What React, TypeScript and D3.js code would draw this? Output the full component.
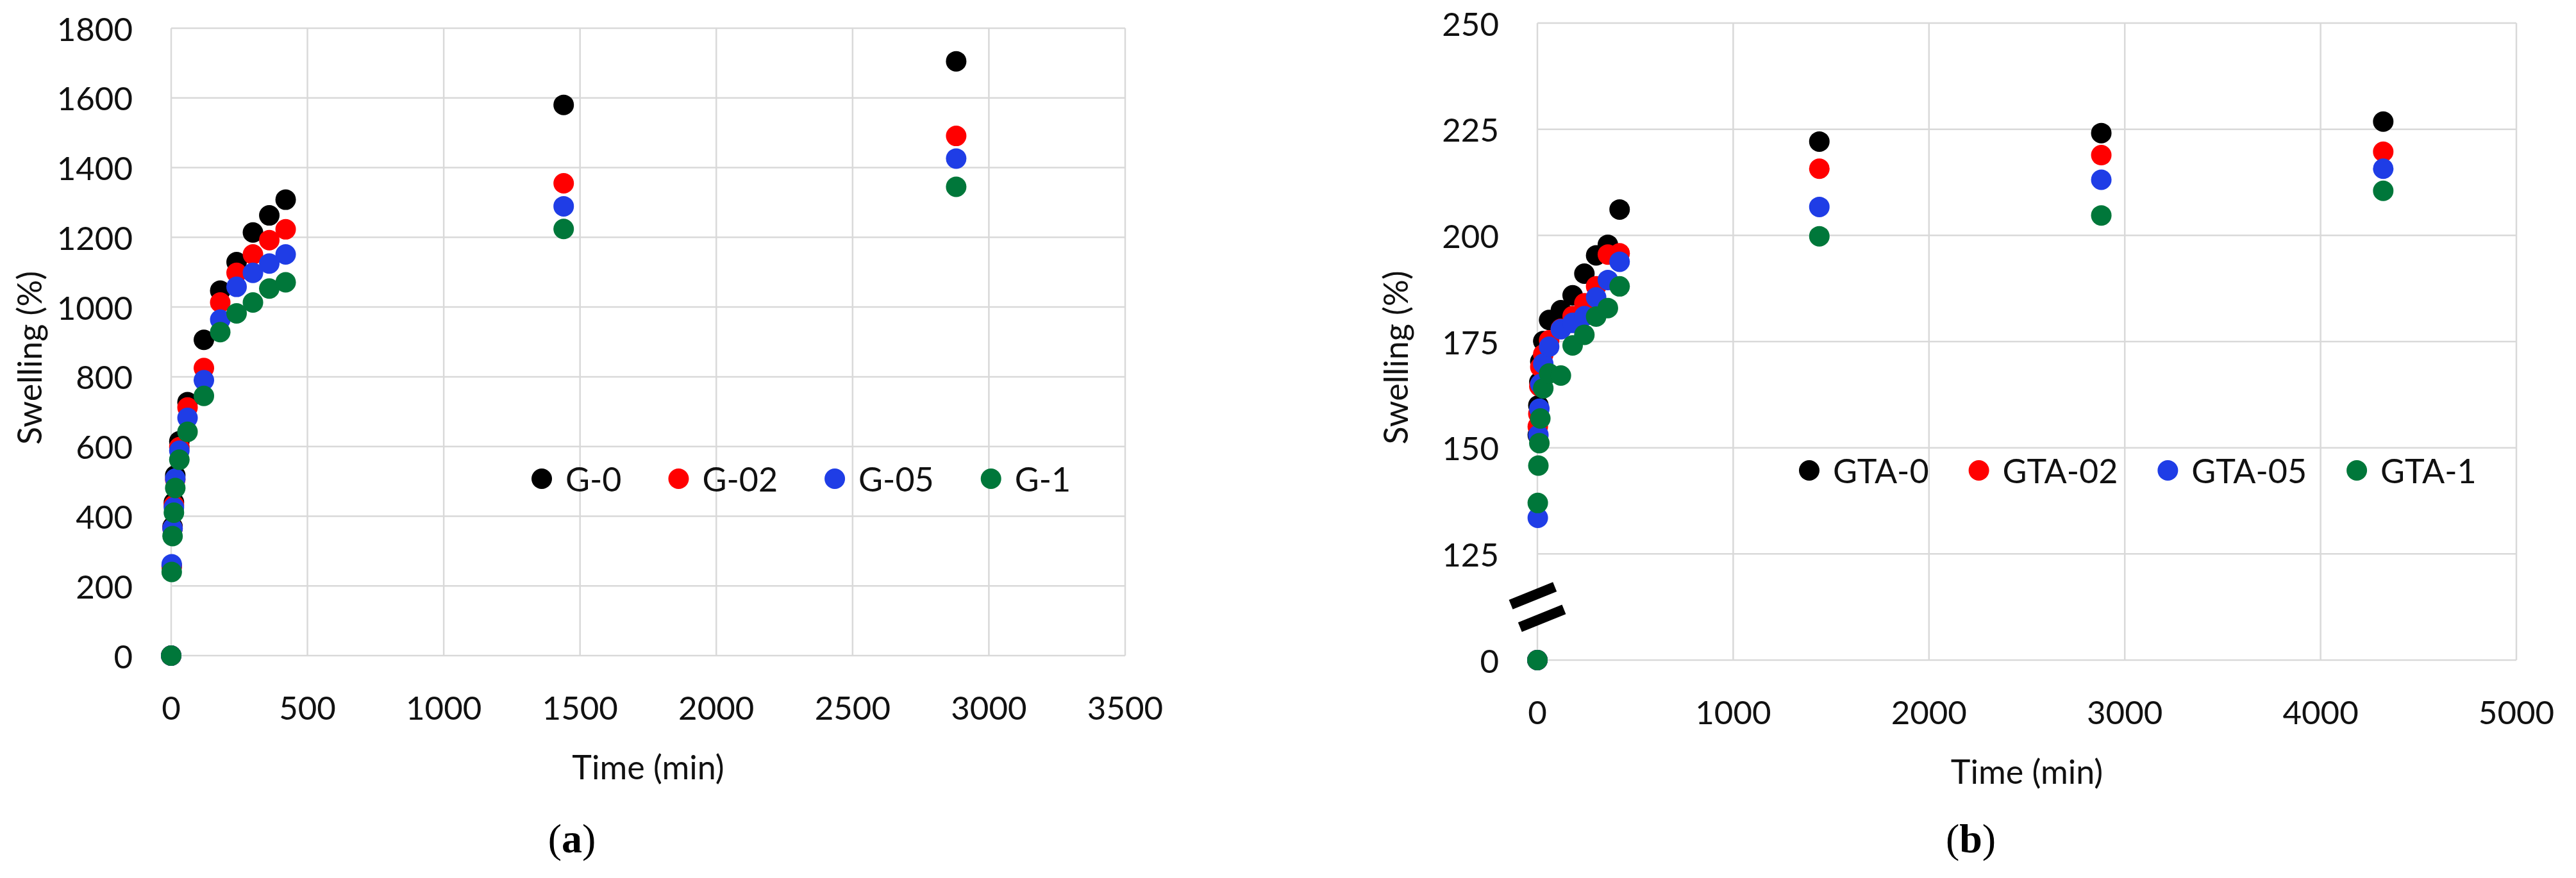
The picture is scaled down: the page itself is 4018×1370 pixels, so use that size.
import { useEffect, useRef } from 'react'
import * as d3 from 'd3'

// (a) G series
const timesA = [0, 2, 5, 10, 15, 30, 60, 120, 180, 240, 300, 360, 420, 1440, 2880]
const g0 = [0, 258, 370, 440, 517, 615, 727, 906, 1047, 1129, 1214, 1263, 1308, 1580, 1705]
const g02 = [0, 255, 365, 432, 505, 598, 712, 825, 1013, 1098, 1151, 1192, 1223, 1355, 1491]
const g05 = [0, 262, 365, 425, 508, 588, 682, 790, 964, 1058, 1098, 1125, 1151, 1289, 1426]
const g1 = [0, 240, 343, 410, 481, 562, 642, 745, 928, 982, 1013, 1053, 1071, 1224, 1345]
const namesA = ['G-0', 'G-02', 'G-05', 'G-1']
const ticksXA = [0, 500, 1000, 1500, 2000, 2500, 3000, 3500]
const ticksYA = [0, 200, 400, 600, 800, 1000, 1200, 1400, 1600, 1800]

// (b) GTA series (y axis broken between 0 and 125)
const timesB = [0, 2, 5, 10, 15, 30, 60, 120, 180, 240, 300, 360, 420, 1440, 2880, 4320]
const gta0 = [0, 153, 160, 165.5, 170.3, 175.1, 180.1, 182.4, 185.9, 191, 195.3, 197.8, 206.1, 222.1, 224.1, 226.8]
const gta02 = [0, 155, 158, 164.5, 169, 172, 175.3, 178, 181, 184, 188, 195.5, 195.8, 215.7, 218.9, 219.7]
const gta05 = [0, 133.5, 153, 159.2, 165, 169.8, 173.8, 177.9, 179.4, 181, 185.4, 189.5, 193.8, 206.7, 213.1, 215.7]
const gta1 = [0, 137, 145.8, 151.1, 156.9, 164, 167.5, 167, 174.1, 176.6, 180.9, 182.9, 188, 199.8, 204.7, 210.5]
const namesB = ['GTA-0', 'GTA-02', 'GTA-05', 'GTA-1']
const ticksXB = [0, 1000, 2000, 3000, 4000, 5000]
const ticksYB = [100, 125, 150, 175, 200, 225, 250]

const colors = ['#000000', '#ff0000', '#1f3de6', '#00773a']

const FONT = 'Lato, "Open Sans", sans-serif'

export default function App() {
  const ref = useRef<SVGSVGElement | null>(null)

  useEffect(() => {
    const svg = d3.select(ref.current)
    svg.selectAll('*').remove()

    const drawChart = (opts: any) => {
      const { x, y, xTicks, yTicks, yFmt, times, series, names, legendX, legendY, legendGap, label, labelX, yMin } = opts
      const g = svg.append('g')
      const [x0, x1] = x.range()
      const [y0, y1] = y.range()

      // gridlines
      g.selectAll('.hg').data(yTicks).join('line')
        .attr('x1', x0).attr('x2', x1)
        .attr('y1', (d: number) => y(d)).attr('y2', (d: number) => y(d))
        .attr('stroke', '#d9d9d9').attr('stroke-width', 2.5)
      g.selectAll('.vg').data(xTicks).join('line')
        .attr('y1', y0).attr('y2', y1)
        .attr('x1', (d: number) => x(d)).attr('x2', (d: number) => x(d))
        .attr('stroke', '#d9d9d9').attr('stroke-width', 2.5)

      // tick labels
      g.selectAll('.yt').data(yTicks).join('text')
        .attr('x', x0 - 60).attr('y', (d: number) => y(d))
        .attr('text-anchor', 'end').attr('dominant-baseline', 'central')
        .style('font-family', FONT).style('font-size', '51px').attr('fill', '#111')
        .text((d: number) => yFmt(d))
      g.selectAll('.xt').data(xTicks).join('text')
        .attr('x', (d: number) => x(d)).attr('y', y0 + 80)
        .attr('text-anchor', 'middle').attr('dominant-baseline', 'central')
        .style('font-family', FONT).style('font-size', '51px').attr('fill', '#111')
        .text((d: number) => d)

      // axis titles
      g.append('text')
        .attr('x', (x0 + x1) / 2).attr('y', y0 + 173)
        .attr('text-anchor', 'middle').attr('dominant-baseline', 'central')
        .style('font-family', FONT).style('font-size', '52px').attr('fill', '#111')
        .text('Time (min)')
      g.append('text')
        .attr('transform', `translate(${x0 - 222}, ${(y0 + y1) / 2 + 25}) rotate(-90)`)
        .attr('text-anchor', 'middle').attr('dominant-baseline', 'central')
        .style('font-family', FONT).style('font-size', '52px').attr('fill', '#111')
        .text('Swelling (%)')

      // points
      series.forEach((vals: number[], i: number) => {
        g.append('g').selectAll('circle').data(vals).join('circle')
          .attr('cx', (_d: number, j: number) => x(times[j]))
          .attr('cy', (d: number) => y(Math.max(d, yMin)))
          .attr('r', 16)
          .attr('fill', colors[i])
      })

      // legend
      let cx = legendX
      names.forEach((name: string, i: number) => {
        g.append('circle').attr('cx', cx).attr('cy', legendY).attr('r', 16).attr('fill', colors[i])
        const t = g.append('text')
          .attr('x', cx + 37).attr('y', legendY)
          .attr('dominant-baseline', 'central')
          .style('font-family', FONT).style('font-size', '52px').attr('fill', '#111')
          .text(name)
        const w = (t.node() as SVGTextElement).getComputedTextLength()
        cx = cx + 37 + w + legendGap
      })

      // panel label
      const lab = g.append('text')
        .attr('x', labelX).attr('y', 1308)
        .attr('text-anchor', 'middle').attr('dominant-baseline', 'central')
        .style('font-family', '"Liberation Serif", serif').style('font-size', '64px').attr('fill', '#000')
      lab.append('tspan').text('(')
      lab.append('tspan').style('font-weight', 'bold').text(label)
      lab.append('tspan').text(')')
      return g
    }

    const xA = d3.scaleLinear().domain([0, 3500]).range([267, 1755])
    const yA = d3.scaleLinear().domain([0, 1800]).range([1023, 44])
    drawChart({
      x: xA, y: yA, xTicks: ticksXA, yTicks: ticksYA, yFmt: (d: number) => d,
      times: timesA, series: [g0, g02, g05, g1], names: namesA,
      legendX: 845, legendY: 747, legendGap: 89, label: 'a', labelX: 892, yMin: 0
    })

    const xB = d3.scaleLinear().domain([0, 5000]).range([2398, 3925])
    const yB = d3.scaleLinear().domain([100, 250]).range([1030, 36])
    const gB = drawChart({
      x: xB, y: yB, xTicks: ticksXB, yTicks: ticksYB, yFmt: (d: number) => (d === 100 ? 0 : d),
      times: timesB, series: [gta0, gta02, gta05, gta1], names: namesB,
      legendX: 2822, legendY: 734, legendGap: 78, label: 'b', labelX: 3074, yMin: 100
    })

    // axis break mark between 0 and 125
    const by = (yB(100) + yB(125)) / 2
    const brk = gB.append('g').attr('transform', `translate(${xB(0)}, ${by}) rotate(-22)`)
    brk.append('rect').attr('x', -40).attr('y', -14).attr('width', 80).attr('height', 28).attr('fill', '#fff')
    brk.append('rect').attr('x', -37).attr('y', -27).attr('width', 74).attr('height', 16).attr('fill', '#000')
    brk.append('rect').attr('x', -37).attr('y', 11).attr('width', 74).attr('height', 16).attr('fill', '#000')
  }, [])

  return (
    <svg
      ref={ref}
      width={4018}
      height={1370}
      style={{ position: 'absolute', left: 0, top: 0, background: '#fff', display: 'block' }}
    />
  )
}
